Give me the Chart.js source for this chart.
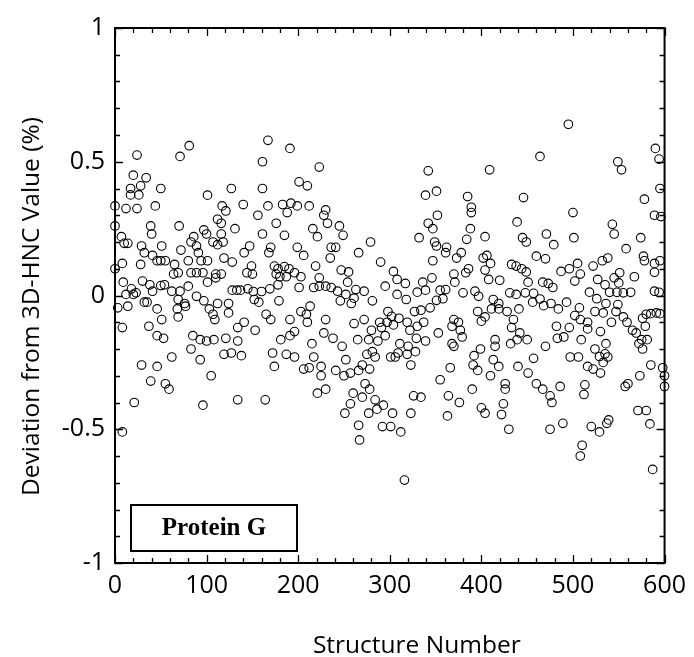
<!DOCTYPE html>
<html><head><meta charset="utf-8">
<script src="https://cdn.jsdelivr.net/npm/chart.js@4/dist/chart.umd.min.js"></script>
<style>html,body{margin:0;padding:0;background:#fff}canvas{display:block}</style>
</head><body>
<canvas id="c" width="694" height="657"></canvas>
<script>
// ---- data ----
const structureNumber = [
  // 0-60
  0,0,0,3,7,8,9,8,8,10,12,12,14,14,17,17,18,20,20,21,23,24,24,26,28,28,29,29,30,32,32,34,35,37,38,39,39,40,41,41,44,46,46,46,46,50,50,50,51,51,53,54,55,55,59,
  // 60-120
  81,71,101,117,112,116,70,97,100,86,116,83,89,107,112,72,91,80,94,101,65,64,69,83,89,96,110,110,101,62,71,80,69,76,89,97,112,68,77,103,107,109,69,85,93,100,108,83,119,62,93,105,96,
  // 120-180
  167,161,127,161,140,167,156,121,176,131,161,118,147,141,170,168,119,128,149,144,150,176,116,128,133,137,145,151,160,169,152,157,124,124,165,170,141,134,153,121,134,127,138,172,174,134,164,
  // 180-240
  191,223,201,210,183,192,199,212,188,230,228,232,185,216,221,199,206,236,235,174,178,185,190,180,187,196,203,219,223,178,201,217,223,230,236,179,213,203,209,210,191,230,196,191,181,228,238,187,196,215,217,206,212,225,225,221,230,
  // 240-300
  245,249,279,241,266,290,247,255,254,295,243,252,263,272,246,258,261,281,298,261,272,289,291,280,248,265,277,287,295,275,284,281,252,270,278,241,250,257,266,273,278,260,270,284,293,257,251,277,286,266,292,267,
  // 300-360
  342,339,351,352,342,347,332,349,351,347,304,308,317,336,346,330,339,308,318,355,351,344,302,327,334,310,319,297,304,330,337,322,353,329,339,311,320,309,319,301,306,328,323,355,326,334,303,323,301,312,316,
  // 360-420
  409,385,389,389,388,384,404,362,361,378,373,406,402,410,386,383,404,408,370,371,361,358,380,393,397,413,411,396,370,375,377,368,379,400,404,368,370,399,392,415,413,366,391,396,410,390,364,376,363,400,404,
  // 420-480
  464,446,439,471,445,449,460,470,433,438,444,449,420,467,473,451,431,438,448,457,464,456,468,419,419,428,441,435,433,442,450,439,432,415,470,457,419,440,451,426,426,460,467,475,424,422,430,475,
  // 480-540
  495,500,501,479,487,496,505,508,502,522,532,527,535,478,518,526,476,484,493,507,524,533,502,508,516,482,496,530,490,483,509,516,524,529,535,497,506,516,522,530,486,477,513,512,489,520,529,537,510,508,
  // 540-600
  549,553,590,594,595,578,589,596,543,545,558,574,577,578,538,589,595,551,545,550,567,589,540,548,555,563,589,594,536,547,555,559,549,542,580,585,591,595,576,579,565,569,575,581,572,576,536,538,533,598,600,585,573,560,557,600,539,571,580,584,587
];
const deviation = [
  // 0-60
  0.335,0.26,0.10,-0.046,0.22,0.12,0.05,-0.12,-0.51,0.195,0.325,0.004,0.195,-0.04,0.40,0.376,0.025,0.45,0.004,-0.40,0.01,0.525,0.325,0.376,0.41,0.116,0.185,-0.26,0.054,0.16,-0.025,0.44,-0.025,-0.115,0.04,0.26,-0.32,0.23,0.15,0.016,0.335,0.13,-0.05,-0.15,-0.265,0.40,0.13,0.037,0.185,-0.09,-0.16,0.04,0.13,-0.33,-0.35,
  // 60-120
  0.56,0.52,0.375,0.335,0.285,0.27,0.26,0.245,0.23,0.22,0.23,0.20,0.185,0.20,0.19,0.17,0.16,0.13,0.13,0.13,0.116,0.08,0.085,0.085,0.085,0.085,0.08,0.066,0.05,0.016,0.016,0.035,-0.015,-0.03,-0.003,-0.02,-0.03,-0.05,-0.04,-0.05,-0.07,-0.09,-0.08,-0.15,-0.165,-0.17,-0.165,-0.2,-0.22,-0.23,-0.24,-0.30,-0.41,
  // 120-180
  0.58,0.50,0.40,0.40,0.34,0.335,0.30,0.316,0.27,0.25,0.23,0.2,0.185,0.16,0.18,0.16,0.14,0.125,0.11,0.085,0.08,0.08,0.08,0.02,0.02,0.02,0.025,0.015,0.015,0.025,-0.015,-0.025,-0.03,-0.065,-0.07,-0.09,-0.1,-0.12,-0.13,-0.16,-0.17,-0.215,-0.225,-0.215,-0.265,-0.39,-0.39,
  // 180-240
  0.55,0.48,0.425,0.41,0.34,0.345,0.335,0.335,0.31,0.32,0.30,0.27,0.225,0.25,0.22,0.18,0.15,0.18,0.14,0.11,0.10,0.108,0.10,0.07,0.07,0.085,0.07,0.11,0.066,0.04,0.03,0.03,0.035,0.035,0.03,-0.02,-0.04,-0.06,-0.07,-0.1,-0.09,-0.09,-0.135,-0.15,-0.165,-0.14,-0.16,-0.22,-0.23,-0.18,-0.23,-0.275,-0.27,-0.265,-0.30,-0.365,-0.35,
  // 240-300
  0.26,0.225,0.20,0.18,0.16,0.125,0.095,0.088,0.05,0.035,0.016,0.004,0.022,0.016,-0.02,-0.03,-0.01,-0.02,-0.06,-0.105,-0.09,-0.1,-0.12,-0.13,-0.19,-0.165,-0.165,-0.17,-0.15,-0.22,-0.23,-0.21,-0.24,-0.26,-0.275,-0.28,-0.30,-0.29,-0.28,-0.33,-0.35,-0.365,-0.38,-0.39,-0.41,-0.405,-0.44,-0.44,-0.425,-0.485,-0.49,-0.54,
  // 300-360
  0.466,0.375,0.39,0.30,0.27,0.25,0.216,0.20,0.185,0.13,0.09,0.06,0.045,0.05,0.066,0.0125,0.02,0.004,-0.015,0.02,-0.018,-0.046,-0.078,-0.06,-0.055,-0.085,-0.1,-0.1,-0.11,-0.115,-0.1,-0.13,-0.14,-0.16,-0.17,-0.18,-0.19,-0.215,-0.22,-0.23,-0.23,-0.21,-0.26,-0.315,-0.375,-0.38,-0.44,-0.44,-0.49,-0.51,-0.69,
  // 360-420
  0.47,0.37,0.33,0.31,0.25,0.21,0.22,0.18,0.16,0.16,0.14,0.15,0.14,0.12,0.1,0.085,0.095,0.06,0.08,0.05,0.022,-0.012,0.01,0.016,-0.003,-0.015,-0.05,-0.06,-0.09,-0.1,-0.13,-0.115,-0.155,-0.096,-0.08,-0.18,-0.19,-0.2,-0.225,-0.19,-0.24,-0.27,-0.26,-0.28,-0.30,-0.35,-0.375,-0.40,-0.45,-0.42,-0.44,
  // 420-480
  0.52,0.366,0.275,0.23,0.216,0.2,0.147,0.137,0.116,0.11,0.1,0.088,0.057,0.05,0.045,0.05,0.01,0.004,0.01,0.008,-0.013,-0.025,-0.038,-0.03,-0.05,-0.06,-0.05,-0.09,-0.12,-0.14,-0.165,-0.165,-0.18,-0.165,-0.19,-0.235,-0.265,-0.265,-0.29,-0.33,-0.35,-0.33,-0.35,-0.375,-0.405,-0.445,-0.50,-0.50,
  // 480-540
  0.64,0.31,0.216,0.19,0.09,0.1,0.12,0.08,0.054,0.11,0.13,0.06,0.04,0.03,0.0125,-0.012,-0.03,-0.05,-0.025,-0.046,-0.06,-0.065,-0.075,-0.09,-0.1,-0.115,-0.12,-0.135,-0.155,-0.16,-0.165,-0.125,-0.2,-0.228,-0.218,-0.23,-0.23,-0.265,-0.275,-0.29,-0.34,-0.40,-0.334,-0.37,-0.478,-0.49,-0.51,-0.478,-0.56,-0.60,
  // 540-600
  0.50,0.47,0.55,0.51,0.40,0.36,0.30,0.295,0.266,0.23,0.175,0.216,0.147,0.13,0.14,0.12,0.13,0.085,0.066,0.047,0.07,0.087,0.012,0.012,0.01,0.012,0.016,0.012,-0.03,-0.06,-0.08,-0.1,-0.034,-0.1,-0.07,-0.068,-0.065,-0.068,-0.085,-0.115,-0.13,-0.14,-0.165,-0.165,-0.18,-0.2,-0.18,-0.23,-0.25,-0.27,-0.30,-0.26,-0.30,-0.33,-0.34,-0.34,-0.465,-0.43,-0.43,-0.48,-0.65
];
const xTickLabels = [0, 100, 200, 300, 400, 500, 600];
const yTickLabels = [-1, -0.5, 0, 0.5, 1];
const seriesName = 'Protein G';
const xTitle = 'Structure Number';
const yTitle = 'Deviation from 3D-HNC Value (%)';

const points = structureNumber.map((s, i) => ({ x: s, y: deviation[i] }));
const sansFont = '"Open Sans", sans-serif';

const framePlugin = {
  id: 'frame',
  afterDatasetsDraw(chart) {
    const { ctx, chartArea: a, scales: { x, y } } = chart;
    ctx.save();
    ctx.strokeStyle = '#000';
    ctx.lineWidth = 2;
    ctx.strokeRect(a.left, a.top, a.right - a.left, a.bottom - a.top);
    ctx.lineWidth = 1.3;
    ctx.beginPath();
    for (let i = -10; i <= 10; i++) {
      const py = Math.round(y.getPixelForValue(i / 10)) + 0.5;
      const L = (i % 5 === 0) ? 8 : 5;
      ctx.moveTo(a.left, py); ctx.lineTo(a.left + L, py);
      ctx.moveTo(a.right, py); ctx.lineTo(a.right - L, py);
    }
    for (let i = 0; i <= 30; i++) {
      const px = Math.round(x.getPixelForValue(i * 20)) + 0.5;
      const L = (i % 5 === 0) ? 8 : 5;
      ctx.moveTo(px, a.bottom); ctx.lineTo(px, a.bottom - L);
      ctx.moveTo(px, a.top); ctx.lineTo(px, a.top + L);
    }
    ctx.stroke();
    // legend box
    const bx = a.left + 16, bw = 166, bh = 46, by = a.bottom - 12 - bh;
    ctx.fillStyle = '#fff';
    ctx.fillRect(bx, by, bw, bh);
    ctx.lineWidth = 2;
    ctx.strokeRect(bx, by, bw, bh);
    ctx.fillStyle = '#000';
    ctx.font = 'bold 25px "Liberation Serif", "Times New Roman", serif';
    ctx.textAlign = 'center';
    ctx.textBaseline = 'middle';
    ctx.fillText(seriesName, bx + bw / 2, by + bh / 2 + 1);
    // axis titles
    ctx.font = '24.5px ' + sansFont;
    ctx.fillText(xTitle, (a.left + a.right) / 2 + 27, chart.height - 11);
    ctx.translate(32, (a.top + a.bottom) / 2 + 11);
    ctx.rotate(-Math.PI / 2);
    ctx.fillText(yTitle, 0, 0);
    ctx.restore();
  }
};

new Chart(document.getElementById('c'), {
  type: 'scatter',
  data: {
    datasets: [{
      label: seriesName,
      data: points,
      showLine: false,
      pointStyle: 'circle',
      pointRadius: 4.3,
      pointBorderWidth: 1.1,
      pointBorderColor: '#000',
      pointBackgroundColor: 'rgba(0,0,0,0)',
      clip: false
    }]
  },
  options: {
    responsive: false,
    animation: false,
    devicePixelRatio: 1,
    layout: { padding: { top: 28, right: 27, left: 0, bottom: 0 } },
    plugins: { legend: { display: false }, tooltip: { enabled: false } },
    scales: {
      x: {
        type: 'linear', min: 0, max: 600,
        grid: { display: false, drawTicks: false },
        border: { display: false },
        ticks: {
          stepSize: 100, padding: 8, color: '#000',
          font: { family: sansFont, size: 25 },
          callback: v => xTickLabels.includes(v) ? String(v) : ''
        },
        title: { display: false, text: xTitle },
        afterFit: s => { s.height = 94; }
      },
      y: {
        type: 'linear', min: -1, max: 1,
        grid: { display: false, drawTicks: false },
        border: { display: false },
        ticks: {
          stepSize: 0.5, padding: 10, color: '#000',
          font: { family: sansFont, size: 25 },
          callback: v => {
            const r = Math.round(v * 10) / 10;
            return yTickLabels.includes(r) ? String(r) : '';
          }
        },
        title: { display: false, text: yTitle },
        afterFit: s => { s.width = 115; }
      }
    }
  },
  plugins: [framePlugin]
});
</script>
</body></html>
